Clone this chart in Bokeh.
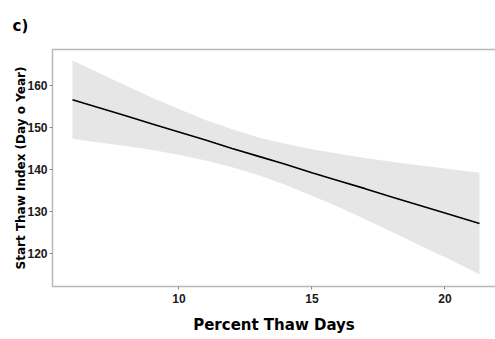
from bokeh.plotting import figure
from bokeh.models import Range1d, FixedTicker, LinearAxis
from bokeh.embed import file_html
from bokeh.resources import INLINE

# Fitted trend and its confidence band (percent thaw days vs start thaw index)
thaw_pct = [6.0, 7.0, 8.0, 9.0, 10.0, 11.0, 12.0, 13.0, 14.0, 15.0, 16.0, 17.0, 18.0, 19.0, 20.0, 21.3]
fit_index = [156.6, 154.7, 152.8, 150.8, 148.9, 147.0, 145.0, 143.1, 141.2, 139.2, 137.3, 135.4, 133.4, 131.5, 129.6, 127.1]
ci_upper = [166.0, 163.0, 160.0, 157.1, 154.4, 151.8, 149.6, 147.6, 146.1, 144.8, 143.7, 142.7, 141.8, 141.0, 140.2, 139.2]
ci_lower = [147.3, 146.4, 145.6, 144.6, 143.5, 142.1, 140.5, 138.6, 136.3, 133.7, 131.0, 128.1, 125.1, 122.0, 119.0, 114.9]

x_ticks = [10, 15, 20]
y_ticks = [120, 130, 140, 150, 160]

p = figure(
    width=495, height=339,
    min_border_left=52, min_border_right=0,
    min_border_top=49, min_border_bottom=53,
    x_range=Range1d(5.25, 21.9), y_range=Range1d(112.05, 168.6),
    output_backend="svg", toolbar_location=None,
    background_fill_color="white", border_fill_color="white",
)
p.outline_line_color = None

p.varea(x=thaw_pct, y1=ci_lower, y2=ci_upper, fill_color="#e6e6e6", fill_alpha=1.0)
p.line(x=thaw_pct, y=fit_index, line_color="black", line_width=1.6)

p.grid.visible = False

xax = p.below[0]
yax = p.left[0]

for ax in (xax, yax):
    ax.axis_line_color = "#b8b8b8"
    ax.axis_line_width = 1.5
    ax.major_tick_line_color = "#8a8a8a"
    ax.major_tick_out = 3
    ax.major_tick_in = 0
    ax.minor_tick_line_color = None
    ax.major_label_text_font = "Liberation Sans"
    ax.major_label_text_font_style = "bold"
    ax.major_label_text_font_size = "12px"
    ax.major_label_text_color = "#1a1a1a"
    ax.axis_label_text_font = "DejaVu Sans"
    ax.axis_label_text_font_style = "bold"
    ax.axis_label_text_color = "black"

xax.ticker = FixedTicker(ticks=x_ticks)
yax.ticker = FixedTicker(ticks=y_ticks)
xax.major_label_standoff = 4
yax.major_label_standoff = 2

xax.axis_label = "Percent Thaw Days"
xax.axis_label_text_font_size = "15px"
xax.axis_label_standoff = 10

yax.axis_label = "Start Thaw Index (Day o Year)"
yax.axis_label_text_font_size = "12px"
yax.axis_label_standoff = -4

# plain top rule closing the panel
top = LinearAxis(major_label_text_font_size="0px", major_tick_line_color=None,
                 major_tick_out=0, major_tick_in=0, major_label_standoff=0,
                 minor_tick_line_color=None, minor_tick_out=0,
                 axis_line_color="#b8b8b8", axis_line_width=1.5,
                 ticker=FixedTicker(ticks=[]))
p.add_layout(top, "above")

p.title.text = "c)"
p.title.text_font = "DejaVu Sans"
p.title.text_font_style = "bold"
p.title.text_font_size = "15px"
p.title.text_color = "black"
p.title.offset = -40
p.title.standoff = 26
p.title.vertical_align = "top"

open("out.html", "w").write(file_html(p, INLINE))
